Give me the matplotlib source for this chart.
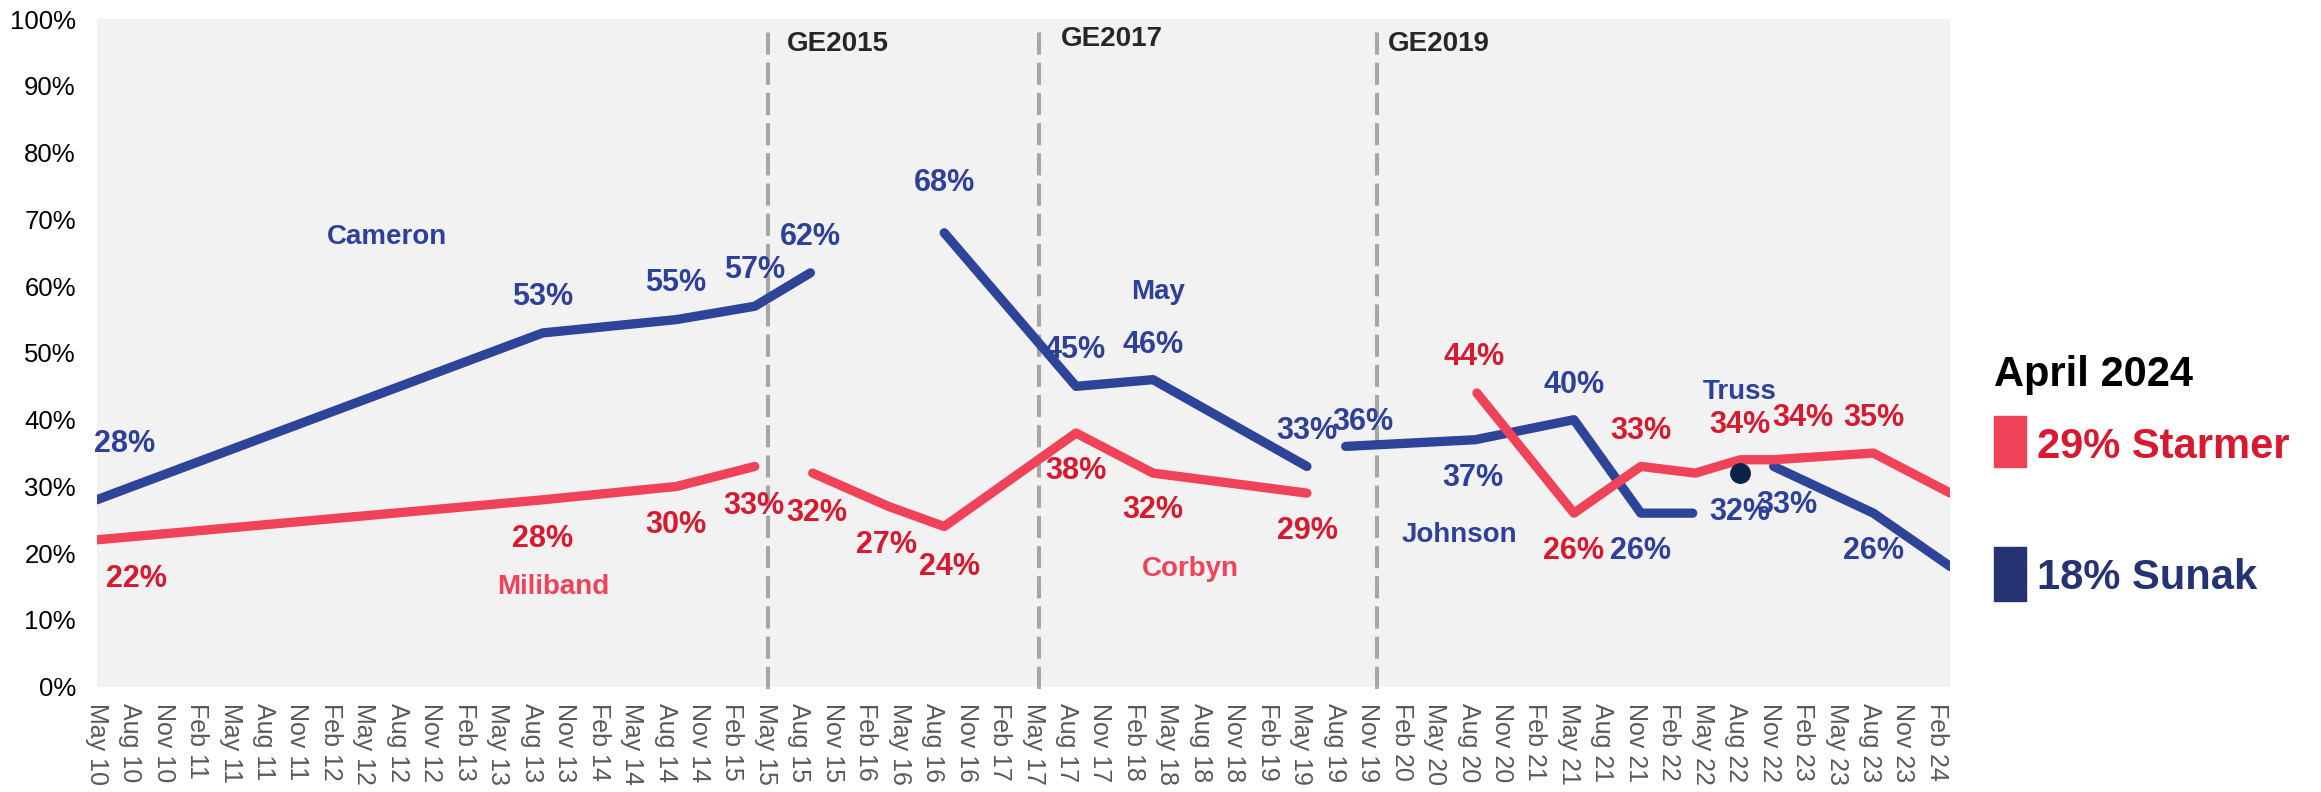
import matplotlib
matplotlib.use("Agg")
import matplotlib.pyplot as plt
from matplotlib.patches import Rectangle

plt.rcParams['font.family'] = ['Liberation Sans', 'DejaVu Sans']

# ---------------- data ----------------
tick_labels = [
    "May 10", "Aug 10", "Nov 10", "Feb 11", "May 11", "Aug 11", "Nov 11",
    "Feb 12", "May 12", "Aug 12", "Nov 12", "Feb 13", "May 13", "Aug 13",
    "Nov 13", "Feb 14", "May 14", "Aug 14", "Nov 14", "Feb 15", "May 15",
    "Aug 15", "Nov 15", "Feb 16", "May 16", "Aug 16", "Nov 16", "Feb 17",
    "May 17", "Aug 17", "Nov 17", "Feb 18", "May 18", "Aug 18", "Nov 18",
    "Feb 19", "May 19", "Aug 19", "Nov 19", "Feb 20", "May 20", "Aug 20",
    "Nov 20", "Feb 21", "May 21", "Aug 21", "Nov 21", "Feb 22", "May 22",
    "Aug 22", "Nov 22", "Feb 23", "May 23", "Aug 23", "Nov 23", "Feb 24",
]
yticks = [0, 10, 20, 30, 40, 50, 60, 70, 80, 90, 100]

# x = position in quarters since May 2010
cameron_x = [0, 13.33, 17.33, 19.67, 21.33]
cameron_y = [28, 53, 55, 57, 62]
may_x = [25.33, 29.27, 31.57, 36.17]
may_y = [68, 45, 46, 33]
johnson_x = [37.33, 41.2, 44.15, 46.15, 47.7]
johnson_y = [36, 37, 40, 26, 26]
truss_x = [49.12]
truss_y = [32]
sunak_x = [50.12, 53.1, 55.4]
sunak_y = [33, 26, 18]

miliband_x = [0, 13.33, 17.33, 19.67]
miliband_y = [22, 28, 30, 33]
corbyn_x = [21.4, 23.67, 25.33, 29.27, 31.57, 36.17]
corbyn_y = [32, 27, 24, 38, 32, 29]
starmer_x = [41.25, 44.15, 46.15, 47.78, 49.12, 50.1, 53.1, 55.4]
starmer_y = [44, 26, 33, 32, 34, 34, 35, 29]

elections = ["GE2015", "GE2017", "GE2019"]
election_x = [20.07, 28.16, 38.26]

legend_title = "April 2024"
legend_lab = "29% Starmer"
legend_con = "18% Sunak"

# label annotations: (text, x, y)
con_labels = [
    ("28%", 0.82, 36.3), ("53%", 13.34, 58.4), ("55%", 17.3, 60.5),
    ("57%", 19.65, 62.5), ("62%", 21.32, 67.3), ("68%", 25.35, 75.4),
    ("45%", 29.24, 50.5), ("46%", 31.57, 51.2), ("33%", 36.17, 38.3),
    ("36%", 37.84, 39.6), ("37%", 41.13, 31.2), ("40%", 44.15, 45.2),
    ("26%", 46.15, 20.3), ("32%", 49.11, 26.2), ("33%", 50.5, 27.2),
    ("26%", 53.1, 20.4),
]
lab_labels = [
    ("22%", 1.2, 16.2), ("28%", 13.34, 22.2), ("30%", 17.3, 24.2),
    ("33%", 19.65, 27.0), ("32%", 21.53, 26.0), ("27%", 23.59, 21.2),
    ("24%", 25.5, 17.9), ("38%", 29.27, 32.3), ("32%", 31.57, 26.4),
    ("29%", 36.2, 23.3), ("44%", 41.16, 49.4), ("26%", 44.15, 20.3),
    ("33%", 46.15, 38.3), ("34%", 49.11, 39.2), ("34%", 51.0, 40.3),
    ("35%", 53.1, 40.3),
]
con_names = [("Cameron", 8.68, 67.3), ("May", 31.72, 59.2),
             ("Johnson", 40.74, 22.7), ("Truss", 49.11, 44.2)]
lab_names = [("Miliband", 13.65, 15.0), ("Corbyn", 32.7, 17.6)]
election_label_pos = [(20.63, 96.3), (28.82, 97.0), (38.6, 96.3)]

# ---------------- style ----------------
BLUE = "#2E4499"
BLUE_TXT = "#2F409A"
RED = "#F0435A"
RED_TXT = "#D9192F"
NAVY = "#253373"
DOT = "#0C2248"
GREY = "#A6A6A6"
BG = "#F2F2F2"

W, H = 2321, 792
fig = plt.figure(figsize=(W / 100, H / 100), dpi=100)
ax = fig.add_axes([96.7 / W, (H - 686.7) / H, (1950 - 96.7) / W, (686.7 - 19.2) / H])
ax.set_facecolor(BG)
for s in ax.spines.values():
    s.set_visible(False)

lw = 6.7
common = dict(lw=lw, solid_capstyle="round", solid_joinstyle="round", zorder=3)
for xs, ys in [(cameron_x, cameron_y), (may_x, may_y), (johnson_x, johnson_y), (sunak_x, sunak_y)]:
    ax.plot(xs, ys, color=BLUE, **common)
for xs, ys in [(miliband_x, miliband_y), (corbyn_x, corbyn_y), (starmer_x, starmer_y)]:
    ax.plot(xs, ys, color=RED, **{**common, "zorder": 4})
ax.plot(truss_x, truss_y, 'o', color=DOT, markersize=14, zorder=5)

for ex in election_x:
    ax.plot([ex, ex], [-0.4, 99], color=GREY, lw=2.9, dashes=(5.5, 2.0),
            zorder=2, clip_on=False)
for name, (tx, ty) in zip(elections, election_label_pos):
    ax.text(tx, ty, name, color="#262626", fontsize=20, fontweight="bold",
            ha="left", va="center", zorder=6)

for t, x, y in con_labels:
    ax.text(x, y, t, color=BLUE_TXT, fontsize=22, fontweight="bold",
            ha="center", va="center", zorder=6)
for t, x, y in lab_labels:
    ax.text(x, y, t, color=RED_TXT, fontsize=22, fontweight="bold",
            ha="center", va="center", zorder=6)
for t, x, y in con_names:
    ax.text(x, y, t, color=BLUE_TXT, fontsize=20, fontweight="bold",
            ha="center", va="center", zorder=6)
for t, x, y in lab_names:
    ax.text(x, y, t, color=RED, fontsize=20, fontweight="bold",
            ha="center", va="center", zorder=6)

ax.set_xlim(0, 55.39)
ax.set_ylim(0, 100)
ax.set_xticks(range(len(tick_labels)))
ax.set_xticklabels(tick_labels, rotation=-90, fontsize=18, color="#595959")
ax.set_yticks(yticks)
ax.set_yticklabels([f"{v}%" for v in yticks], fontsize=18.5, color="black")
ax.tick_params(axis="both", length=0)
ax.tick_params(axis="x", pad=12)
ax.tick_params(axis="y", pad=15)

# legend (figure coordinates)
fig.text(1994 / W, (H - 386) / H, legend_title, fontsize=30, fontweight="bold",
         color="black", ha="left", va="baseline")
fig.patches.append(Rectangle((1994 / W, (H - 467) / H), 32 / W, 51 / H,
                             transform=fig.transFigure, color=RED))
fig.patches.append(Rectangle((1994 / W, (H - 601) / H), 32 / W, 54 / H,
                             transform=fig.transFigure, color=NAVY))
fig.text(2037 / W, (H - 457.6) / H, legend_lab, fontsize=30, fontweight="bold",
         color=RED_TXT, ha="left", va="baseline")
fig.text(2037 / W, (H - 589) / H, legend_con, fontsize=30, fontweight="bold",
         color=NAVY, ha="left", va="baseline")

fig.savefig("out.png", dpi=100, facecolor="white")
